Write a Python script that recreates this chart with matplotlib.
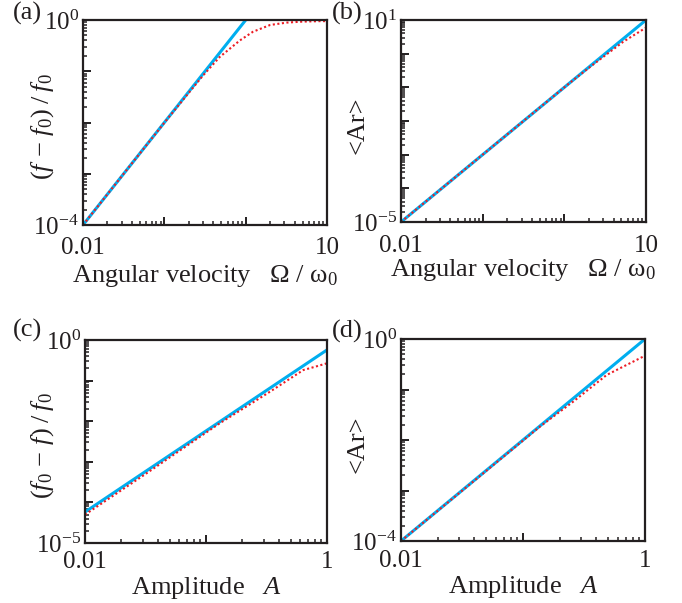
import numpy as np
import matplotlib
matplotlib.use("Agg")
import matplotlib.pyplot as plt
from matplotlib.ticker import LogLocator, FuncFormatter, NullFormatter

plt.rcParams['font.family'] = ['Liberation Serif', 'DejaVu Serif']
plt.rcParams['mathtext.fontset'] = 'custom'
plt.rcParams['mathtext.rm'] = 'Liberation Serif'
plt.rcParams['mathtext.it'] = 'Liberation Serif:italic'
plt.rcParams['mathtext.bf'] = 'Liberation Serif:bold'

BLUE = '#00AEEF'
RED = '#ED1C24'
INK = '#231F20'

# (a) frequency shift vs angular velocity
a_blue_x = [0.01, 1.05]
a_blue_y = [1e-4, 1.1]
a_red_x = [0.01, 0.03, 0.1, 0.2, 0.3, 0.48, 0.85, 1.23, 2.0, 3.2, 5.0, 8.2, 10]
a_red_y = [1e-4, 9e-4, 0.0099, 0.038, 0.083, 0.19, 0.40, 0.59, 0.80, 0.89, 0.93, 0.95, 0.95]

# (b) <Ar> vs angular velocity
b_blue_x = [0.01, 10]
b_blue_y = [1e-5, 10]
b_red_x = [0.01, 0.1, 1.0, 1.29, 2.0, 3.3, 5.27, 7.0, 9.7, 10]
b_red_y = [1e-5, 1e-3, 0.1, 0.165, 0.38, 0.96, 2.26, 3.47, 5.66, 5.8]

# (c) frequency shift vs amplitude
c_blue_x = [0.01, 1.0]
c_blue_y = [5.8e-5, 0.57]
c_red_x = [0.01, 0.03, 0.13, 0.338, 0.5, 0.637, 0.8, 1.0]
c_red_y = [5.0e-5, 4.5e-4, 0.0089, 0.0533, 0.114, 0.182, 0.22, 0.267]

# (d) <Ar> vs amplitude
d_blue_x = [0.01, 1.0]
d_blue_y = [1e-4, 1.0]
d_red_x = [0.01, 0.05, 0.138, 0.258, 0.485, 0.7, 1.0]
d_red_y = [1e-4, 2.45e-3, 0.0185, 0.0575, 0.194, 0.303, 0.467]

x_omega = 'Angular velocity   Ω / ω${}_0$'
x_amp = 'Amplitude   $A$'

panels = [
    dict(rect=[83/682, 1-225/603, 244/682, 205/603], tag='(a)', tagpos=(13, 13),
         blue=(a_blue_x, a_blue_y), red=(a_red_x, a_red_y),
         xlim=(0.01, 10), ylim=(1e-4, 1), ylabel=r'$(f\,-\,f_0)\;/\;f_0$',
         xlabel=x_omega, xl_y=-0.185, yl_x=-0.164, pad=9),
    dict(rect=[401/682, 1-222/603, 245/682, 202/603], tag='(b)', tagpos=(332, 13),
         blue=(b_blue_x, b_blue_y), red=(b_red_x, b_red_y),
         xlim=(0.01, 10), ylim=(1e-5, 10), ylabel='<Ar>',
         xlabel=x_omega, xl_y=-0.173, yl_x=-0.176, pad=9),
    dict(rect=[85/682, 1-543/603, 242/682, 203/603], tag='(c)', tagpos=(13, 330),
         blue=(c_blue_x, c_blue_y), red=(c_red_x, c_red_y),
         xlim=(0.01, 1), ylim=(1e-5, 1), ylabel=r'$(f_0\,-\,f)\;/\;f_0$',
         xlabel=x_amp, xl_y=-0.16, yl_x=-0.174, pad=6),
    dict(rect=[401/682, 1-541/603, 244/682, 202/603], tag='(d)', tagpos=(332, 331),
         blue=(d_blue_x, d_blue_y), red=(d_red_x, d_red_y),
         xlim=(0.01, 1), ylim=(1e-4, 1), ylabel='<Ar>',
         xlabel=x_amp, xl_y=-0.162, yl_x=-0.176, pad=6.5),
]


def end_label(lo, hi, kind):
    def fmt(v, pos):
        if np.isclose(v, lo) or np.isclose(v, hi):
            if kind == 'x':
                return '%g' % v
            return r'$10^{%d}$' % int(round(np.log10(v)))
        return ''
    return FuncFormatter(fmt)


fig = plt.figure(figsize=(6.82, 6.03), dpi=100)

for p in panels:
    ax = fig.add_axes(p['rect'])
    ax.set_xscale('log')
    ax.set_yscale('log')
    ax.plot(*p['blue'], color=BLUE, lw=2.2, solid_capstyle='butt')
    ax.plot(*p['red'], color=RED, lw=1.5, linestyle=(0, (1, 1.2)))
    ax.set_xlim(*p['xlim'])
    ax.set_ylim(*p['ylim'])

    for axis, lim, kind in ((ax.xaxis, p['xlim'], 'x'), (ax.yaxis, p['ylim'], 'y')):
        axis.set_major_locator(LogLocator(base=10, numticks=20))
        axis.set_minor_locator(LogLocator(base=10, subs=np.arange(2, 10), numticks=20))
        axis.set_major_formatter(end_label(lim[0], lim[1], kind))
        axis.set_minor_formatter(NullFormatter())

    ax.tick_params(which='both', direction='in', top=False, right=False,
                   color=INK, labelsize=18, labelcolor=INK)
    ax.tick_params(which='major', length=5.5, width=1.4)
    ax.tick_params(which='minor', length=3, width=1.1)
    ax.tick_params(axis='x', which='major', pad=p['pad'])
    ax.tick_params(axis='y', which='major', pad=3)
    for s in ax.spines.values():
        s.set_linewidth(1.6)
        s.set_color(INK)

    ax.set_xlabel(p['xlabel'], fontsize=19, color=INK, va='top')
    ax.xaxis.set_label_coords(0.5, p['xl_y'])
    ax.set_ylabel(p['ylabel'], fontsize=19, color=INK, va='center')
    ax.yaxis.set_label_coords(p['yl_x'], 0.48)

    fig.text(p['tagpos'][0]/682, 1 - p['tagpos'][1]/603, p['tag'], fontsize=19,
             color=INK, ha='left', va='center')

fig.savefig('out.png', dpi=100)
